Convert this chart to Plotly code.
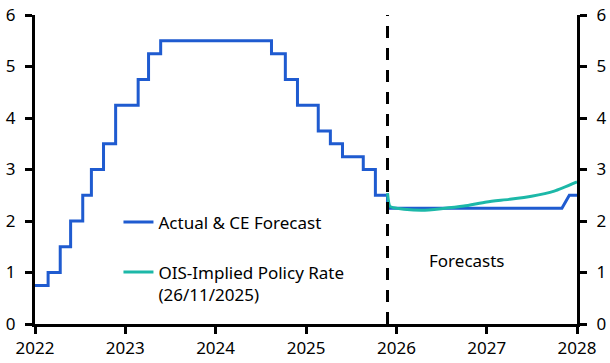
import plotly.graph_objects as go

# Actual policy rate decisions (step changes)
actual_dates = ["2022-01-01", "2022-02-23", "2022-04-13", "2022-05-25", "2022-07-13",
                "2022-08-17", "2022-10-05", "2022-11-23", "2023-02-22", "2023-04-05",
                "2023-05-24", "2024-08-14", "2024-10-09", "2024-11-27", "2025-02-19",
                "2025-04-09", "2025-05-28", "2025-08-20", "2025-10-08", "2025-11-26"]
actual_rates = [0.75, 1.0, 1.5, 2.0, 2.5, 3.0, 3.5, 4.25, 4.75, 5.25,
                5.5, 5.25, 4.75, 4.25, 3.75, 3.5, 3.25, 3.0, 2.5, 2.25]

# CE forecast
fc_dates = ["2025-11-26", "2027-11-01", "2027-12-01", "2028-01-01"]
fc_rates = [2.25, 2.25, 2.5, 2.5]

# OIS-implied policy rate (26/11/2025)
ois_dates = ["2025-11-26", "2025-12-05", "2025-12-20", "2026-02-01", "2026-04-15",
             "2026-07-01", "2026-10-01", "2027-01-01", "2027-04-01", "2027-07-01",
             "2027-10-01", "2028-01-01"]
ois_rates = [2.54, 2.29, 2.26, 2.23, 2.21, 2.24, 2.29, 2.37, 2.42, 2.48, 2.58, 2.76]

forecast_start = "2025-11-26"
year_ticks = ["2022-01-01", "2023-01-01", "2024-01-01", "2025-01-01",
              "2026-01-01", "2027-01-01", "2028-01-01"]
year_labels = ["2022", "2023", "2024", "2025", "2026", "2027", "2028"]
y_ticks = [0, 1, 2, 3, 4, 5, 6]

BLUE = "#1f5bd0"
TEAL = "#1cb8a8"
FONT = "Noto Sans"

fig = go.Figure()
fig.add_trace(go.Scatter(x=actual_dates, y=actual_rates, mode="lines",
                         line=dict(color=BLUE, width=3, shape="hv"),
                         name="Actual & CE Forecast", legendgroup="a"))
fig.add_trace(go.Scatter(x=fc_dates, y=fc_rates, mode="lines",
                         line=dict(color=BLUE, width=3),
                         showlegend=False, legendgroup="a"))
fig.add_trace(go.Scatter(x=ois_dates, y=ois_rates, mode="lines",
                         line=dict(color=TEAL, width=3, shape="spline", smoothing=0.6),
                         name="OIS-Implied Policy Rate<br>(26/11/2025)", legendgroup="b"))
# invisible trace to activate the right axis
fig.add_trace(go.Scatter(x=[year_ticks[0]], y=[0], yaxis="y2", mode="lines",
                         showlegend=False, hoverinfo="skip", line=dict(width=0)))

fig.add_shape(type="line", xref="x", yref="y", x0=forecast_start, x1=forecast_start,
              y0=0, y1=6, line=dict(color="black", width=3, dash="12px,10px"))

fig.add_annotation(x="2026-10-12", y=1.24, xref="x", yref="y", text="Forecasts",
                   showarrow=False, font=dict(family=FONT, size=17, color="black"))

axis_common = dict(showgrid=False, zeroline=False, showline=True, linecolor="black",
                   linewidth=3, ticks="outside", ticklen=7, tickwidth=3,
                   tickcolor="black", automargin=False,
                   tickfont=dict(family=FONT, size=17, color="black"))

fig.update_layout(
    width=610, height=363,
    margin=dict(l=35, r=33, t=15, b=39),
    plot_bgcolor="white", paper_bgcolor="white",
    font=dict(family=FONT, size=17, color="black"),
    xaxis=dict(range=[year_ticks[0], year_ticks[-1]], tickvals=year_ticks,
               ticktext=year_labels, **axis_common),
    yaxis=dict(range=[0, 6], tickvals=y_ticks, ticklabelstandoff=6, **axis_common),
    yaxis2=dict(range=[0, 6], tickvals=y_ticks, overlaying="y", side="right",
                ticklabelstandoff=6, **axis_common),
    legend=dict(x=0.154, y=0.387, xanchor="left", yanchor="top",
                bgcolor="rgba(0,0,0,0)", traceorder="grouped", tracegroupgap=25,
                valign="top", font=dict(family=FONT, size=17, color="black")),
    showlegend=True,
)

fig.write_html("out.html", config={"displayModeBar": False},
               post_script="document.body.style.margin='0px';document.body.style.overflow='hidden';")
